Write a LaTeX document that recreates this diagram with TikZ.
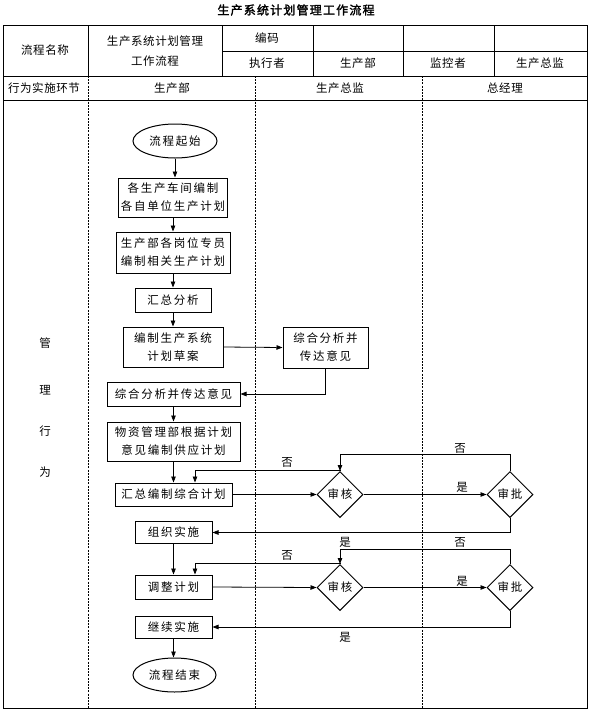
\documentclass[tikz,border=0pt]{standalone}
\usepackage{fontspec}
\newfontfamily\cjka[LetterSpace=5]{Noto Sans CJK SC}
\newfontfamily\cjkb[LetterSpace=15]{Noto Sans CJK SC}
\newfontfamily\cjkt[LetterSpace=10,FakeBold=2]{Noto Sans CJK SC}
\usetikzlibrary{shapes.geometric,arrows.meta,calc}
\begin{document}
\begin{tikzpicture}[x=1pt,y=-1pt,
  frame/.style={line width=1pt},
  grid/.style={line width=0.6pt},
  lane/.style={line width=0.7pt,dash pattern=on 2pt off 1.2pt},
  hdr/.style={inner sep=0pt,align=center,font=\fontsize{11.5}{20}\selectfont\cjka},
  box/.style={draw,line width=1pt,inner sep=0pt,align=center,font=\fontsize{11.5}{18}\selectfont\cjkb},
  oval/.style={box,ellipse},
  dec/.style={box,diamond,minimum width=46pt,minimum height=46pt},
  lbl/.style={inner sep=0pt,font=\fontsize{11.5}{14}\selectfont\cjka},
  arr/.style={line width=0.8pt,-{Triangle[length=6pt,width=4.5pt]}}]
\useasboundingbox[fill=white] (0,0) rectangle (590,713);
% title
\node[inner sep=0pt,font=\fontsize{12}{14}\selectfont\cjkt] (title) at (296,10) {生产系统计划管理工作流程};
% table
\draw[frame] (3,25) rectangle (587,708);
\draw[grid] (3,76) -- (587,76);
\draw[grid] (3,100) -- (587,100);
\draw[grid] (222,51) -- (587,51);
\foreach \xx in {88,222,313,403,494} \draw[grid] (\xx,25) -- (\xx,76);
\foreach \xx in {88,255,422} \draw[lane] (\xx,76) -- (\xx,708);
% header texts
\node[hdr] (h1) at (45,50) {流程名称};
\node[hdr] (h2) at (155,51) {生产系统计划管理\\工作流程};
\node[hdr] (h3) at (267,38) {编码};
\node[hdr] (h4) at (267,63) {执行者};
\node[hdr] (h5) at (358,63) {生产部};
\node[hdr] (h6) at (448,63) {监控者};
\node[hdr] (h7) at (540,63) {生产总监};
\node[hdr] (h8) at (44,88) {行为实施环节};
\node[hdr] (h9) at (172,88) {生产部};
\node[hdr] (h10) at (340,88) {生产总监};
\node[hdr] (h11) at (505,88) {总经理};
\node[hdr] (v1) at (45,343) {管};
\node[hdr] (v2) at (45,390) {理};
\node[hdr] (v3) at (45,431) {行};
\node[hdr] (v4) at (45,472) {为};
% flow nodes
\node[oval,minimum width=84pt,minimum height=34pt] (start) at (175,141) {流程起始};
\node[box,minimum width=109pt,minimum height=39pt] (n1) at (173,197.5) {各生产车间编制\\各自单位生产计划};
\node[box,minimum width=114pt,minimum height=41pt] (n2) at (173,252.5) {生产部各岗位专员\\编制相关生产计划};
\node[box,minimum width=76pt,minimum height=24pt] (n3) at (173,300) {汇总分析};
\node[box,minimum width=100pt,minimum height=40pt] (n4) at (173,347) {编制生产系统\\计划草案};
\node[box,minimum width=85pt,minimum height=41pt] (n5) at (325.5,347.5) {综合分析并\\传达意见};
\node[box,minimum width=133pt,minimum height=24pt] (n6) at (173.5,394) {综合分析并传达意见};
\node[box,minimum width=133pt,minimum height=39pt] (n7) at (173.5,441.5) {物资管理部根据计划\\意见编制供应计划};
\node[box,minimum width=117pt,minimum height=23pt] (n8) at (173.5,494.5) {汇总编制综合计划};
\node[dec] (d1) at (340,494.5) {审核};
\node[dec] (a1) at (510,494.5) {审批};
\node[box,minimum width=77pt,minimum height=22pt] (n9) at (173.5,532.5) {组织实施};
\node[box,minimum width=77pt,minimum height=24pt] (n10) at (173.5,587) {调整计划};
\node[dec] (d2) at (340,587.5) {审核};
\node[dec] (a2) at (510,587.5) {审批};
\node[box,minimum width=77pt,minimum height=22pt] (n11) at (173.5,627) {继续实施};
\node[oval,minimum width=83pt,minimum height=34pt] (end) at (174.5,675) {流程结束};
% loop corners
\coordinate (c1) at (195,470);
\coordinate (c2) at (195,563);
% connectors
\draw[arr] (start.south) -- (start.south |- n1.north);
\draw[arr] (n1.south) -- (n1.south |- n2.north);
\draw[arr] (n2.south) -- (n2.south |- n3.north);
\draw[arr] (n3.south) -- (n3.south |- n4.north);
\draw[arr] (n4.east) -- (n5.west);
\draw[arr] (n5.south) |- (n6.east);
\draw[arr] (n6.south) -- (n6.south |- n7.north);
\draw[arr] (n7.south) -- (n7.south |- n8.north);
\draw[arr] (n8.east) -- (d1.west);
\draw[arr] (d1.east) -- (a1.west);
\draw[arr] (d1.north) |- (c1) -- (c1 |- n8.north);
\draw[arr] (a1.north) -- ++(0,-17) -| (d1.north);
\draw[arr] (a1.south) |- (n9.east);
\draw[arr] (n9.south) -- (n9.south |- n10.north);
\draw[arr] (n10.east) -- (d2.west);
\draw[arr] (d2.east) -- (a2.west);
\draw[arr] (d2.north) |- (c2) -- (c2 |- n10.north);
\draw[arr] (a2.north) -- ++(0,-15) -| (d2.north);
\draw[arr] (a2.south) |- (n11.east);
\draw[arr] (n11.south) -- (n11.south |- end.north);
% labels
\node[lbl] (l1) at (287,462) {否};
\node[lbl] (l2) at (460,448) {否};
\node[lbl] (l3) at (462,487) {是};
\node[lbl] (l4) at (345,542) {是};
\node[lbl] (l5) at (460,542) {否};
\node[lbl] (l6) at (287,555) {否};
\node[lbl] (l7) at (462,581) {是};
\node[lbl] (l8) at (345,637) {是};
\end{tikzpicture}
\end{document}
